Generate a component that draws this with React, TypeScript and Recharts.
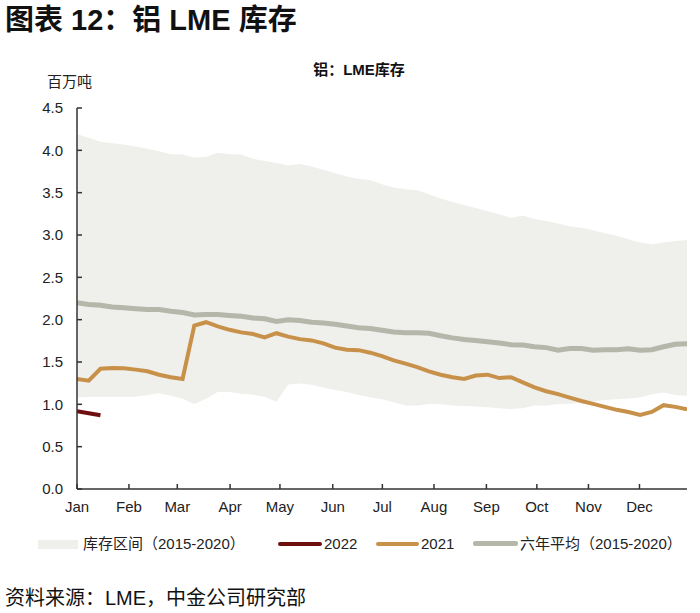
import React from "react";
import { ComposedChart, Area, Line, XAxis, YAxis } from "recharts";

const weeks: number[] = Array.from({ length: 53 }, (_, i) => i);

const rangeLow: number[] = [
  1.08, 1.09, 1.09, 1.09, 1.09, 1.09, 1.11, 1.13, 1.1, 1.065, 1.005, 1.065, 1.145, 1.145, 1.125, 1.115, 1.09, 1.03,
  1.235, 1.245, 1.23, 1.2, 1.17, 1.145, 1.11, 1.085, 1.06, 1.025, 0.985, 0.985, 1.005, 1.0, 0.985, 0.98, 0.975, 0.965,
  0.955, 0.945, 0.955, 0.985, 0.985, 1.005, 1.005, 1.025, 1.03, 1.05, 1.06, 1.07, 1.08, 1.12, 1.14, 1.11, 1.1,
];

const rangeHigh: number[] = [
  4.19, 4.15, 4.1, 4.085, 4.07, 4.045, 4.02, 3.99, 3.955, 3.95, 3.915, 3.92, 3.97, 3.955, 3.95, 3.9, 3.875, 3.85, 3.82,
  3.84, 3.81, 3.77, 3.73, 3.69, 3.66, 3.65, 3.6, 3.56, 3.54, 3.53, 3.48, 3.43, 3.39, 3.355, 3.32, 3.28, 3.245, 3.2, 3.23,
  3.19, 3.165, 3.135, 3.1, 3.085, 3.055, 3.02, 2.99, 2.95, 2.91, 2.89, 2.91, 2.93, 2.94,
];

const avg6y: number[] = [
  2.2, 2.18, 2.17, 2.15, 2.14, 2.13, 2.12, 2.12, 2.1, 2.085, 2.055, 2.06, 2.06, 2.05, 2.04, 2.02, 2.01, 1.98, 2.0, 1.99,
  1.97, 1.96, 1.945, 1.925, 1.905, 1.895, 1.875, 1.855, 1.845, 1.845, 1.84, 1.81, 1.785, 1.765, 1.755, 1.74, 1.725,
  1.705, 1.7, 1.68, 1.67, 1.64, 1.66, 1.66, 1.64, 1.645, 1.645, 1.655, 1.64, 1.645, 1.68, 1.71, 1.715,
];

const y2021: number[] = [
  1.3, 1.28, 1.42, 1.43, 1.425, 1.41, 1.39, 1.35, 1.32, 1.3, 1.93, 1.97, 1.92, 1.88, 1.85, 1.83, 1.79, 1.84, 1.8, 1.77,
  1.755, 1.72, 1.67, 1.645, 1.64, 1.61, 1.57, 1.52, 1.48, 1.44, 1.39, 1.35, 1.32, 1.3, 1.34, 1.35, 1.31, 1.32, 1.26, 1.2,
  1.155, 1.12, 1.08, 1.04, 1.005, 0.97, 0.935, 0.91, 0.875, 0.91, 0.99, 0.97, 0.94,
];

const y2022: number[] = [0.92, 0.895, 0.87];

const monthLabels: string[] = ["Jan", "Feb", "Mar", "Apr", "May", "Jun", "Jul", "Aug", "Sep", "Oct", "Nov", "Dec"];
const monthTickWeeks: number[] = [0, 4.43, 8.55, 13.05, 17.3, 21.8, 26.03, 30.43, 34.9, 39.2, 43.6, 47.95];
const yTicks: number[] = [0, 0.5, 1, 1.5, 2, 2.5, 3, 3.5, 4, 4.5];

const data = weeks.map((w, i) => ({
  w,
  range: [rangeLow[i], rangeHigh[i]],
  avg: avg6y[i],
  y2021: y2021[i],
  y2022: i < y2022.length ? y2022[i] : null,
}));

const FONT = '"Liberation Sans", Arial, "Noto Sans CJK SC", sans-serif';
const C_BAND = "#efefec";
const C_2022 = "#6e0e0e";
const C_2021 = "#c8914a";
const C_AVG = "#b4b7a9";

const monthLabel = (v: number) => {
  const idx = monthTickWeeks.indexOf(v);
  return idx >= 0 ? monthLabels[idx] : "";
};

export default function App() {
  const legendText: React.CSSProperties = {
    position: "absolute",
    top: 535,
    fontSize: 15,
    color: "#222",
    lineHeight: "18px",
    whiteSpace: "nowrap",
  };
  return (
    <div
      style={{
        position: "absolute",
        left: 0,
        top: 0,
        width: 700,
        height: 613,
        background: "#fff",
        fontFamily: FONT,
        overflow: "hidden",
      }}
    >
      <div
        style={{
          position: "absolute",
          left: 5,
          top: 3,
          fontSize: 29,
          fontWeight: "bold",
          color: "#111",
          whiteSpace: "nowrap",
          lineHeight: "34px",
        }}
      >
        图表 12：铝 LME 库存
      </div>
      <div
        style={{
          position: "absolute",
          left: 0,
          width: 718,
          top: 60,
          textAlign: "center",
          fontSize: 15,
          fontWeight: "bold",
          color: "#111",
          lineHeight: "20px",
        }}
      >
        铝：LME库存
      </div>
      <div style={{ position: "absolute", left: 47, top: 72, fontSize: 15, color: "#222", lineHeight: "20px" }}>
        百万吨
      </div>

      <div style={{ position: "absolute", left: 0, top: 0 }}>
        <ComposedChart width={700} height={520} data={data} margin={{ top: 108, right: 13, left: 17, bottom: 0 }}>
          <XAxis
            dataKey="w"
            type="number"
            domain={[0, 52]}
            ticks={monthTickWeeks}
            tickFormatter={monthLabel}
            interval={0}
            height={31}
            tickSize={-5}
            tickMargin={17}
            axisLine={{ stroke: "#333", strokeWidth: 1.5 }}
            tickLine={{ stroke: "#333", strokeWidth: 1.5 }}
            tick={{ fill: "#222", fontSize: 15, fontFamily: FONT }}
            allowDataOverflow
          />
          <YAxis
            type="number"
            domain={[0, 4.5]}
            ticks={yTicks}
            interval={0}
            width={60}
            tickSize={-5}
            tickMargin={19}
            tickFormatter={(v: number) => v.toFixed(1)}
            axisLine={{ stroke: "#333", strokeWidth: 1.5 }}
            tickLine={{ stroke: "#333", strokeWidth: 1.5 }}
            tick={{ fill: "#222", fontSize: 15, fontFamily: FONT }}
          />
          <Area
            dataKey="range"
            type="linear"
            fill={C_BAND}
            fillOpacity={1}
            stroke="none"
            isAnimationActive={false}
            activeDot={false}
            dot={false}
          />
          <Line
            dataKey="avg"
            type="linear"
            stroke={C_AVG}
            strokeWidth={5}
            dot={false}
            activeDot={false}
            isAnimationActive={false}
          />
          <Line
            dataKey="y2021"
            type="linear"
            stroke={C_2021}
            strokeWidth={4}
            dot={false}
            activeDot={false}
            isAnimationActive={false}
          />
          <Line
            dataKey="y2022"
            type="linear"
            stroke={C_2022}
            strokeWidth={4}
            dot={false}
            activeDot={false}
            isAnimationActive={false}
          />
        </ComposedChart>
      </div>

      <div style={{ position: "absolute", left: 38, top: 540, width: 40, height: 9, background: C_BAND }} />
      <div style={{ ...legendText, left: 83 }}>库存区间（2015-2020）</div>
      <div style={{ position: "absolute", left: 278, top: 542, width: 44, height: 4, background: C_2022, borderRadius: 2 }} />
      <div style={{ ...legendText, left: 324 }}>2022</div>
      <div style={{ position: "absolute", left: 376, top: 542, width: 43, height: 4, background: C_2021, borderRadius: 2 }} />
      <div style={{ ...legendText, left: 421 }}>2021</div>
      <div style={{ position: "absolute", left: 473, top: 541, width: 45, height: 5, background: C_AVG, borderRadius: 2 }} />
      <div style={{ ...legendText, left: 520 }}>六年平均（2015-2020）</div>

      <div
        style={{
          position: "absolute",
          left: 5,
          top: 586,
          fontSize: 20,
          color: "#111",
          whiteSpace: "nowrap",
          lineHeight: "24px",
        }}
      >
        资料来源：LME，中金公司研究部
      </div>
    </div>
  );
}
